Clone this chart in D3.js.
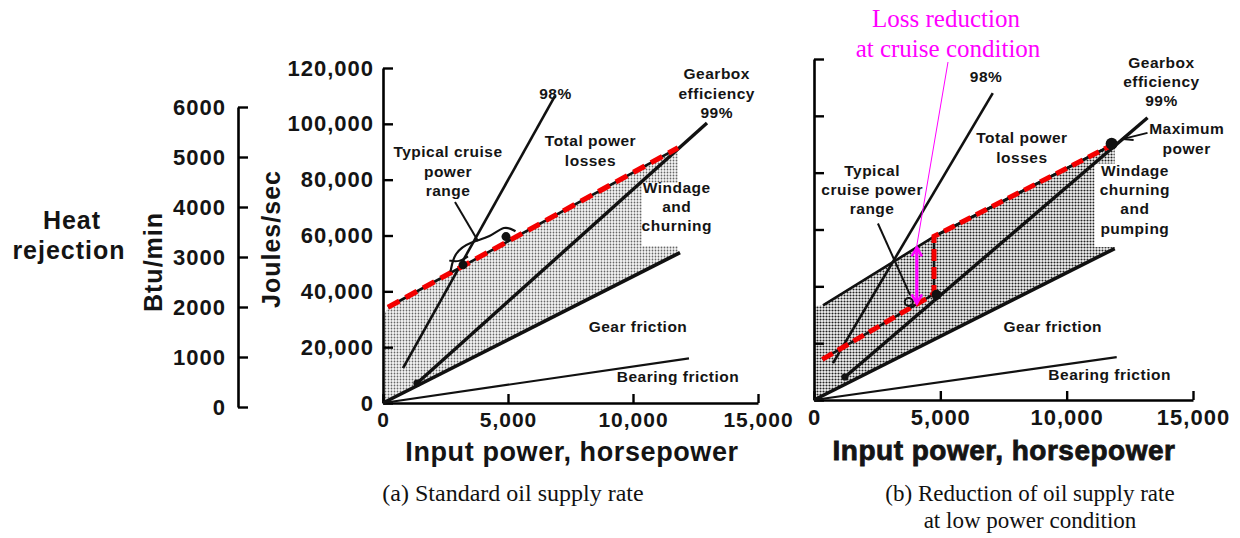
<!DOCTYPE html>
<html>
<head>
<meta charset="utf-8">
<script src="https://cdn.jsdelivr.net/npm/d3@7"></script>
<style>
  body { margin: 0; background: #fff; }
  svg { display: block; }
  .lab { font-family: "Liberation Sans", Arial, sans-serif; font-weight: bold; fill: #141414; letter-spacing: 0.5px; }
  .tick text { font-family: "Liberation Sans", Arial, sans-serif; font-weight: bold; fill: #141414; letter-spacing: 1px; }
  .cap { font-family: "Liberation Serif", "Times New Roman", serif; fill: #111; }
</style>
</head>
<body>
<div id="chart"></div>
<script>
// ---- data (input hp, heat in J/s) ----
const joulesTicks = [0, 20000, 40000, 60000, 80000, 100000, 120000];
const btuTicks = [0, 1000, 2000, 3000, 4000, 5000, 6000];
const hpTicks = [0, 5000, 10000, 15000];

// panel (a) standard oil supply
const bearingA = [[0, 0], [12240, 16000]];
const gearA = [[0, 0], [11880, 53900]];
const eff99A = [[1360, 7100], [12960, 100300]];
const eff98A = [[800, 12500], [6880, 110000]];
const totalA = [[200, 34300], [11800, 91400]];
const shadeLeftA = 31000;

// panel (b) reduced oil supply at low power
const bearingB = [[0, 0], [11980, 15100]];
const gearB = [[0, 0], [11900, 53300]];
const eff99B = [[1225, 8100], [13200, 99300]];
const eff98B = [[750, 13000], [7075, 108000]];
const totalB = [[356, 33300], [4700, 57200], [11900, 90200]];
const reducedB = [[330, 14300], [4600, 36500], [4750, 37600], [4750, 57600], [11900, 90200]];
const shadeLeftB = 33000;
const maxPowerB = [11780, 90200];
const lossArrowB = [[4070, 53700], [4070, 34000]];

// text
const labelsA = [
  { t: ["98%"], x: 6900, y: 109000 },
  { t: ["Gearbox", "efficiency", "99%"], x: 13350, y: 116000 },
  { t: ["Typical cruise", "power", "range"], x: 2600, y: 88000 },
  { t: ["Total power", "losses"], x: 8300, y: 92000 },
  { t: ["Windage", "and", "churning"], x: 11750, y: 75400 },
  { t: ["Gear friction"], x: 10200, y: 25300 },
  { t: ["Bearing friction"], x: 11800, y: 7500 }
];
const labelsB = [
  { t: ["98%"], x: 6810, y: 112000 },
  { t: ["Gearbox", "efficiency", "99%"], x: 13750, y: 117000 },
  { t: ["Maximum", "power"], x: 14750, y: 93500 },
  { t: ["Total power", "losses"], x: 8230, y: 90300 },
  { t: ["Typical", "cruise power", "range"], x: 2300, y: 79000 },
  { t: ["Windage", "churning", "and", "pumping"], x: 12700, y: 79000 },
  { t: ["Gear friction"], x: 9450, y: 23900 },
  { t: ["Bearing friction"], x: 11700, y: 7000 }
];

const W = 1240, H = 538;
const svg = d3.select("#chart").append("svg").attr("width", W).attr("height", H);

const defs = svg.append("defs");
function dots(id, size, r, col) {
  const p = defs.append("pattern").attr("id", id).attr("patternUnits", "userSpaceOnUse")
    .attr("width", size).attr("height", size);
  p.append("rect").attr("width", size).attr("height", size).attr("fill", "#f6f6f6");
  p.append("circle").attr("cx", size / 2).attr("cy", size / 2).attr("r", r).attr("fill", col);
}
dots("dotA", 3, 0.9, "#666");
dots("dotB", 3, 1.05, "#222");

// scales
const xA = d3.scaleLinear().domain([0, 15000]).range([383, 758]);
const yA = d3.scaleLinear().domain([0, 120000]).range([403, 68]);
const btu = d3.scaleLinear().domain([0, 6000]).range([407, 107]);
const xB = d3.scaleLinear().domain([0, 15000]).range([814, 1193]);
const yB = d3.scaleLinear().domain([0, 120000]).range([400, 59]);

function panel(g, x, y, o) {
  const line = d3.line().x(d => x(d[0])).y(d => y(d[1]));
  const top = o.total, bot = o.gear;
  const shade = [[0, 0], [0, o.shadeLeft]].concat(top)
    .concat([[top[top.length - 1][0], bot[1][1] * top[top.length - 1][0] / bot[1][0]]]);
  g.append("path").attr("d", line(shade) + "Z").attr("fill", o.fill);
  // white box behind the windage label
  g.append("rect").attr("x", x(o.box[0])).attr("y", y(o.box[1]))
    .attr("width", x(o.box[2]) - x(o.box[0])).attr("height", y(o.box[3]) - y(o.box[1]))
    .attr("fill", "#fff");

  // axes
  g.append("g").attr("transform", `translate(0,${y(0)})`)
    .call(d3.axisBottom(x).tickValues(hpTicks).tickSize(-9).tickSizeOuter(0).tickPadding(9)
      .tickFormat(d3.format(",")))
    .call(a => a.selectAll(".tick text").style("font-size", o.xSize))
    .call(a => a.select(".domain").attr("stroke-width", 2.6))
    .call(a => a.selectAll(".tick line").attr("stroke-width", 2.4));
  const ya = d3.axisLeft(y).tickValues(joulesTicks).tickSize(-10).tickSizeOuter(0).tickPadding(9)
    .tickFormat(o.yLabels ? d3.format(",") : () => "");
  g.append("g").attr("transform", `translate(${x(0)},0)`).call(ya)
    .call(a => a.selectAll(".tick text").style("font-size", "22px"))
    .call(a => a.select(".domain").attr("stroke-width", 2.6))
    .call(a => a.selectAll(".tick line").attr("stroke-width", 2.4));

  g.append("path").attr("d", line(o.bearing)).attr("stroke", "#111").attr("stroke-width", 2.2).attr("fill", "none");
  g.append("path").attr("d", line(bot)).attr("stroke", "#111").attr("stroke-width", 3.6).attr("fill", "none");
  g.append("path").attr("d", line(o.eff99)).attr("stroke", "#111").attr("stroke-width", 3.4).attr("fill", "none");
  g.append("circle").attr("cx", x(o.eff99[0][0])).attr("cy", y(o.eff99[0][1])).attr("r", 3.6).attr("fill", "#111");
  g.append("path").attr("d", line(o.eff98)).attr("stroke", "#111").attr("stroke-width", 2.6).attr("fill", "none");
  g.append("path").attr("d", line(top)).attr("stroke", "#111").attr("stroke-width", 2.6).attr("fill", "none");
  return line;
}

function labels(g, x, y, list, size) {
  list.forEach(l => {
    const t = g.append("text").attr("class", "lab").attr("text-anchor", "middle")
      .style("font-size", size + "px");
    l.t.forEach((s, i) => t.append("tspan").attr("x", x(l.x)).attr("y", y(l.y))
      .attr("dy", (i * 1.25) + "em").text(s));
  });
}

// ---------------- panel (a) ----------------
const gA = svg.append("g");
const lineA = panel(gA, xA, yA, {
  total: totalA, gear: gearA, bearing: bearingA, eff99: eff99A, eff98: eff98A,
  shadeLeft: shadeLeftA, fill: "url(#dotA)", yLabels: true, xSize: "21px",
  box: [10360, 78900, 13400, 56200]
});
gA.append("path").attr("d", lineA(totalA)).attr("stroke", "#f40000").attr("stroke-width", 5.2)
  .attr("stroke-dasharray", "13 7").attr("fill", "none");

// typical cruise power range mark
const curve = d3.line().x(d => xA(d[0])).y(d => yA(d[1])).curve(d3.curveBasis);
gA.append("path").attr("d", curve([[2700, 47000], [2850, 54000], [3500, 57800], [4300, 59300], [4850, 63800], [5300, 61500]]))
  .attr("stroke", "#111").attr("stroke-width", 2.2).attr("fill", "none");
gA.append("path").attr("d", curve([[2650, 51000], [3050, 50500], [3400, 52500]]))
  .attr("stroke", "#111").attr("stroke-width", 2).attr("fill", "none");
gA.append("line").attr("x1", xA(2880)).attr("y1", yA(72000)).attr("x2", xA(3800)).attr("y2", yA(58000))
  .attr("stroke", "#111").attr("stroke-width", 2);
[[3200, 49500], [4920, 59600]].forEach(p => gA.append("circle").attr("cx", xA(p[0])).attr("cy", yA(p[1]))
  .attr("r", 4.5).attr("fill", "#111"));
labels(gA, xA, yA, labelsA, 15.5);

// btu/min axis
svg.append("g").attr("transform", "translate(238,0)")
  .call(d3.axisLeft(btu).tickValues(btuTicks).tickSize(-10).tickSizeOuter(0).tickPadding(12)
    .tickFormat(d3.format("d")))
  .call(a => a.selectAll(".tick text").style("font-size", "22px"))
  .call(a => a.select(".domain").attr("stroke-width", 2.6))
  .call(a => a.selectAll(".tick line").attr("stroke-width", 2.4));

svg.append("text").attr("class", "lab").attr("text-anchor", "middle").style("font-size", "25px")
  .style("letter-spacing", "1px").attr("transform", "translate(280,239) rotate(-90)").text("Joules/sec");
svg.append("text").attr("class", "lab").attr("text-anchor", "middle").style("font-size", "25px")
  .style("letter-spacing", "1px").attr("transform", "translate(162,262) rotate(-90)").text("Btu/min");
svg.append("text").attr("class", "lab").attr("text-anchor", "middle").style("font-size", "25px")
  .style("letter-spacing", "1px").attr("x", 72).attr("y", 229).text("Heat");
svg.append("text").attr("class", "lab").attr("text-anchor", "middle").style("font-size", "25px")
  .style("letter-spacing", "1px").attr("x", 69).attr("y", 259).text("rejection");
svg.append("text").attr("class", "lab").attr("text-anchor", "middle").style("font-size", "27px")
  .style("letter-spacing", "0.6px").attr("x", 572).attr("y", 461).text("Input power, horsepower");
svg.append("text").attr("class", "cap").attr("text-anchor", "middle").style("font-size", "24px")
  .attr("x", 513).attr("y", 501).text("(a) Standard oil supply rate");

// ---------------- panel (b) ----------------
const gB = svg.append("g");
const lineB = panel(gB, xB, yB, {
  total: totalB, gear: gearB, bearing: bearingB, eff99: eff99B, eff98: eff98B,
  shadeLeft: shadeLeftB, fill: "url(#dotB)", yLabels: false, xSize: "22px",
  box: [11100, 83200, 14600, 53800]
});
gB.append("path").attr("d", lineB(reducedB)).attr("stroke", "#111").attr("stroke-width", 2.6).attr("fill", "none");
gB.append("path").attr("d", lineB(reducedB)).attr("stroke", "#f40000").attr("stroke-width", 5)
  .attr("stroke-dasharray", "12 6").attr("fill", "none");

// cruise range mark
gB.append("line").attr("x1", xB(2530)).attr("y1", yB(62100)).attr("x2", xB(3800)).attr("y2", yB(37000))
  .attr("stroke", "#111").attr("stroke-width", 2);
gB.append("circle").attr("cx", xB(3750)).attr("cy", yB(34500)).attr("r", 4).attr("fill", "none")
  .attr("stroke", "#111").attr("stroke-width", 2);
gB.append("circle").attr("cx", xB(4850)).attr("cy", yB(37000)).attr("r", 5).attr("fill", "#111");
gB.append("circle").attr("cx", xB(maxPowerB[0])).attr("cy", yB(maxPowerB[1])).attr("r", 6).attr("fill", "#111");
gB.append("line").attr("x1", xB(13200)).attr("y1", yB(94000)).attr("x2", xB(12200)).attr("y2", yB(91800))
  .attr("stroke", "#111").attr("stroke-width", 2);
gB.append("path").attr("d", lineB([[12500, 94200], [12200, 91800], [12650, 91500]]))
  .attr("stroke", "#111").attr("stroke-width", 1.8).attr("fill", "none");

labels(gB, xB, yB, labelsB, 15.5);

// magenta loss-reduction arrow
const mag = "#ff00ff";
defs.append("marker").attr("id", "mh").attr("viewBox", "0 0 10 10").attr("refX", 8).attr("refY", 5)
  .attr("markerWidth", 4).attr("markerHeight", 4).attr("orient", "auto-start-reverse")
  .append("path").attr("d", "M1,1 L8,5 L1,9").attr("fill", "none").attr("stroke", mag).attr("stroke-width", 2);
gB.append("line").attr("x1", xB(lossArrowB[0][0])).attr("y1", yB(lossArrowB[0][1]))
  .attr("x2", xB(lossArrowB[1][0])).attr("y2", yB(lossArrowB[1][1]))
  .attr("stroke", mag).attr("stroke-width", 3.2)
  .attr("marker-start", "url(#mh)").attr("marker-end", "url(#mh)");
gB.append("line").attr("x1", 948).attr("y1", 62).attr("x2", xB(lossArrowB[0][0])).attr("y2", yB(lossArrowB[0][1]) - 2)
  .attr("stroke", mag).attr("stroke-width", 1);
svg.append("text").attr("class", "cap").attr("text-anchor", "middle").style("font-size", "25px")
  .style("fill", mag).attr("x", 946).attr("y", 27).text("Loss reduction");
svg.append("text").attr("class", "cap").attr("text-anchor", "middle").style("font-size", "25px")
  .style("fill", mag).attr("x", 948).attr("y", 57).text("at cruise condition");

svg.append("text").attr("class", "lab").attr("text-anchor", "middle").style("font-size", "28px")
  .style("stroke", "#141414").style("stroke-width", 0.8)
  .attr("x", 1004).attr("y", 460).text("Input power, horsepower");
svg.append("text").attr("class", "cap").attr("text-anchor", "middle").style("font-size", "23px")
  .attr("x", 1030).attr("y", 501).text("(b) Reduction of oil supply rate");
svg.append("text").attr("class", "cap").attr("text-anchor", "middle").style("font-size", "23px")
  .attr("x", 1030).attr("y", 528).text("at low power condition");
</script>
</body>
</html>
